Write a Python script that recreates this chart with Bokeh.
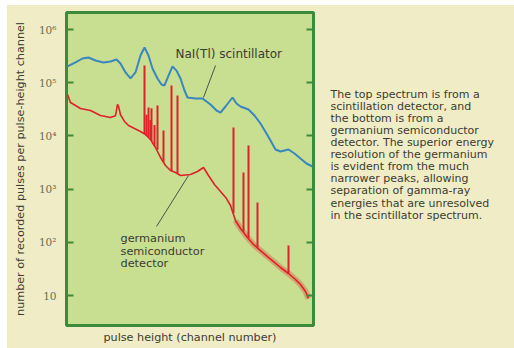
from bokeh.plotting import figure
from bokeh.models import Range1d, FixedTicker, LogAxis, Label, ColumnDataSource
from bokeh.layouts import row
from bokeh.embed import file_html
from bokeh.resources import INLINE
from bokeh.core.properties import value

# ---------------- data ----------------
# NaI(Tl) scintillator spectrum (channel, counts)
nai_channel = [4, 36, 64, 88, 116, 148, 176, 200, 216, 236,
               256, 276, 296, 312, 328, 344, 364, 380, 392, 408,
               424, 440, 456, 472, 484, 516, 544, 576, 600, 616,
               636, 664, 680, 696, 728, 752, 776, 800, 816, 836,
               856, 888, 912, 936, 960, 984]
nai_counts = [2.02e5, 2.40e5, 2.85e5, 2.98e5, 2.61e5, 2.40e5, 2.50e5, 2.73e5, 2.30e5, 1.56e5,
              1.20e5, 1.56e5, 3.24e5, 4.59e5, 3.24e5, 1.85e5, 1.20e5, 9.25e4, 8.86e4, 1.36e5,
              2.02e5, 1.69e5, 1.20e5, 7.13e4, 5.27e4, 5.05e4, 5.05e4, 3.89e4, 3.00e4, 2.75e4,
              3.57e4, 5.27e4, 4.06e4, 3.57e4, 3.13e4, 2.42e4, 1.71e4, 1.11e4, 8.2e3, 5.55e3,
              5.09e3, 5.55e3, 4.67e3, 3.76e3, 3.03e3, 2.66e3]

# Germanium detector continuum (channel, counts)
ge_channel = [4, 16, 36, 56, 96, 136, 176, 196, 204, 208,
              216, 232, 248, 272, 296, 316, 336, 356, 376, 396,
              416, 436, 456, 496, 524, 548, 568, 592, 616, 640,
              656, 676, 696, 724, 748, 776, 804, 828, 856, 888,
              916, 936, 956, 968]
ge_counts = [6.0e4, 4.25e4, 3.73e4, 3.27e4, 3.0e4, 2.42e4, 2.22e4, 2.4e4, 3.9e4, 3.6e4,
             2.5e4, 1.87e4, 1.57e4, 1.38e4, 1.21e4, 1.06e4, 8.55e3, 6.05e3, 3.93e3, 2.78e3,
             2.24e3, 2.05e3, 1.80e3, 1.88e3, 2.14e3, 2.55e3, 1.80e3, 1.22e3, 902, 665,
             492, 257, 182, 123, 91, 70, 54, 43.5, 33.6, 25.9,
             20.0, 16.1, 11.9, 8.8]

# Germanium photopeaks (channel, peak top, peak foot)
peak_channel = [312, 320, 328, 336, 340, 352, 364, 388, 420, 444, 668, 708, 728, 764, 888]
peak_top = [2.1e5, 2.5e4, 3.42e4, 2.0e4, 3.3e4, 1.6e4, 3.73e4, 1.26e4, 8.86e4, 5.74e4,
            1.44e4, 2.05e3, 6.6e3, 560, 87]
peak_foot = [1.1e4, 1.0e4, 9.5e3, 8.5e3, 8.0e3, 6.5e3, 5.5e3, 3.2e3, 2.2e3, 2.0e3,
             350, 160, 120, 80, 26]

y_ticks = [10, 1e2, 1e3, 1e4, 1e5, 1e6]
y_tick_labels = ["10", "10²", "10³", "10⁴", "10⁵", "10⁶"]

caption = ["The top spectrum is from a",
           "scintillation detector, and",
           "the bottom is from a",
           "germanium semiconductor",
           "detector. The superior energy",
           "resolution of the germanium",
           "is evident from the much",
           "narrower peaks, allowing",
           "separation of gamma-ray",
           "energies that are unresolved",
           "in the scintillator spectrum."]

# ---------------- styling ----------------
CREAM = "#f0ecc6"
GREEN = "#c8de90"
FRAME = "#3c8a3c"
BLUE = "#3a86c0"
RED = "#e0202a"
INK = "#3c3c30"
SANS = "DejaVu Sans"


# helpers converting picture pixel positions to data coords (for annotations)
def X(px):
    return (px - 66) * 4


def Y(py):
    return 10 ** (6 - (py - 29) / 53.2)


p = figure(width=313, height=343, output_backend="svg", toolbar_location=None,
           y_axis_type="log",
           x_range=Range1d(0, 988), y_range=Range1d(Y(325), Y(12)),
           min_border_left=59, min_border_top=7, min_border_right=7, min_border_bottom=23)
p.background_fill_color = GREEN
p.border_fill_color = CREAM
p.outline_line_color = FRAME
p.outline_line_width = 3
p.grid.visible = False

# left axis
ya = p.yaxis[0]
ya.ticker = FixedTicker(ticks=y_ticks)
ya.major_label_overrides = {t: l for t, l in zip(y_ticks, y_tick_labels)}
ya.major_tick_in = 7
ya.major_tick_out = 0
ya.major_tick_line_color = FRAME
ya.major_tick_line_width = 2
ya.minor_tick_line_color = None
ya.axis_line_color = None
ya.major_label_text_font = "DejaVu Serif"
ya.major_label_text_font_size = "10.5px"
ya.major_label_text_color = "#6b6b5a"
ya.major_label_standoff = 10
ya.axis_label = "number of recorded pulses per pulse-height channel"
ya.axis_label_text_font = SANS
ya.axis_label_text_font_size = "11.2px"
ya.axis_label_text_font_style = "normal"
ya.axis_label_text_color = INK
ya.axis_label_standoff = 9

# right axis (ticks only)
ra = LogAxis(ticker=FixedTicker(ticks=y_ticks), major_tick_in=7, major_tick_out=0,
             major_tick_line_color=FRAME, major_tick_line_width=2,
             minor_tick_line_color=None, axis_line_color=None,
             major_label_text_font_size="2px", major_label_text_alpha=0)
p.add_layout(ra, "right")

# bottom axis (label only)
xa = p.xaxis[0]
xa.ticker = FixedTicker(ticks=[])
xa.axis_line_color = None
xa.major_tick_line_color = None
xa.minor_tick_line_color = None
xa.axis_label = "pulse height (channel number)"
xa.axis_label_text_font = SANS
xa.axis_label_text_font_size = "11.2px"
xa.axis_label_text_font_style = "normal"
xa.axis_label_text_color = INK
xa.axis_label_standoff = 5

# spectra
p.line(nai_channel, nai_counts, line_color=BLUE, line_width=2)
p.line(ge_channel[31:], ge_counts[31:], line_color=RED, line_width=6, line_alpha=0.3)
p.line(ge_channel, ge_counts, line_color=RED, line_width=1.6)
p.segment(x0=peak_channel, y0=peak_foot, x1=peak_channel, y1=peak_top,
          line_color=RED, line_width=2)

# annotations
p.line([X(215), X(203)], [Y(65), Y(97)], line_color="#4a5548", line_width=1)
p.line([X(156), X(188)], [Y(226), Y(175)], line_color="#4a5548", line_width=1)
p.add_layout(Label(x=X(175), y=Y(53), text="NaI(Tl) scintillator", text_font=SANS,
                   text_font_size="12px", text_color=INK, text_baseline="middle"))
for i, t in enumerate(["germanium", "semiconductor", "detector"]):
    p.add_layout(Label(x=X(120), y=Y(238 + 12.5 * i), text=t, text_font=SANS,
                       text_font_size="11.3px", text_color=INK, text_baseline="middle"))

# caption panel (pixel coordinates, y downwards)
q = figure(width=194, height=343, output_backend="svg", toolbar_location=None,
           x_range=Range1d(0, 194), y_range=Range1d(343, 0),
           min_border=0, x_axis_location=None, y_axis_location=None)
q.background_fill_color = CREAM
q.border_fill_color = CREAM
q.outline_line_color = None
q.grid.visible = False
cap_src = ColumnDataSource(dict(x=[10] * len(caption),
                                y=[90 + 13.2 * i for i in range(len(caption))],
                                text=caption))
q.text(x="x", y="y", text="text", source=cap_src, text_font=value(SANS),
       text_font_size="11px", text_color=INK, text_baseline="middle")

layout = row(p, q, margin=(5, 0, 0, 7), spacing=0)
layout.styles = {"background-color": CREAM}
open("out.html", "w").write(file_html(layout, INLINE))
